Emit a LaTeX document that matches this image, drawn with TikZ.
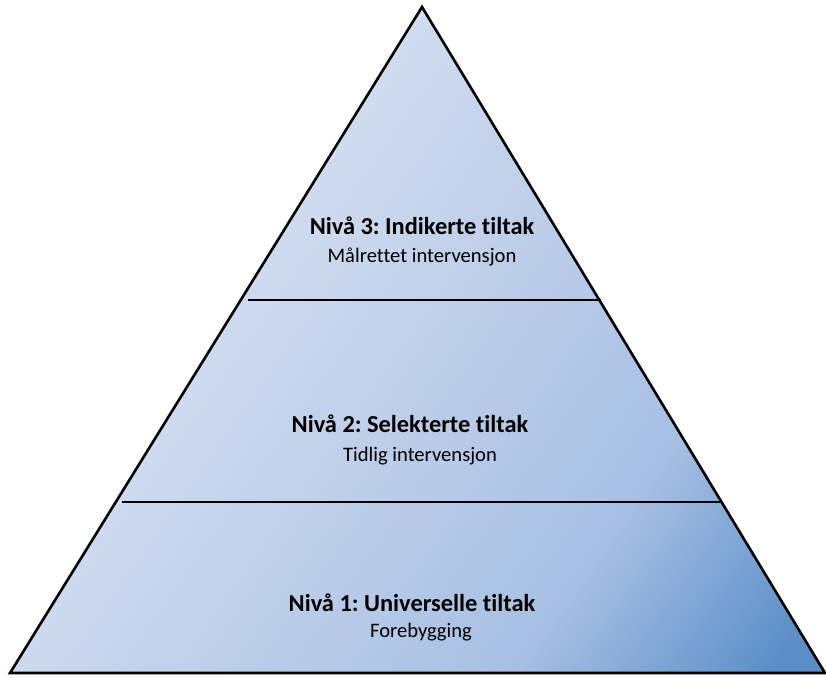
\documentclass[tikz,border=0pt]{standalone}
\usepackage{fontspec}
\setmainfont[Ligatures={NoCommon}]{Carlito}
\frenchspacing
\definecolor{pyrA}{HTML}{E0E8F5}
\definecolor{pyrB}{HTML}{BCCDE9}
\definecolor{pyrC}{HTML}{A6BFE3}
\definecolor{pyrD}{HTML}{5A8EC8}
\pgfdeclarehorizontalshading{pyrshade}{100bp}{color(0bp)=(pyrA); color(25bp)=(pyrA); color(53bp)=(pyrB); color(68bp)=(pyrC); color(82bp)=(pyrD); color(100bp)=(pyrD)}
\tikzset{
  edge/.style={line width=2.6pt, line join=miter},
  title/.style={font=\bfseries\fontsize{24.4}{28}\selectfont, inner sep=0pt},
  sub/.style={font=\fontsize{20.6}{24}\selectfont, inner sep=0pt}
}
\begin{document}
\begin{tikzpicture}[x=1pt,y=-1pt]
\useasboundingbox (0,0) rectangle (826,677);
\coordinate (apex) at (422,7);
\coordinate (bl) at (10,673);
\coordinate (br) at (825,673);
\coordinate (l1a) at (248,300);
\coordinate (l1b) at (601,300);
\coordinate (l2a) at (122,502);
\coordinate (l2b) at (722,502);
\shade[shading=pyrshade, shading angle=-35] (apex) -- (br) -- (bl) -- cycle;
\draw[edge] (apex) -- (br) -- (bl) -- cycle;
\draw[edge] (l1a) -- (l1b);
\draw[edge] (l2a) -- (l2b);
\node[title] (t3) at (422,226) {Nivå 3: Indikerte tiltak};
\node[sub] (s3) at (422,257) {Målrettet intervensjon};
\node[title] (t2) at (410,424) {Nivå 2: Selekterte tiltak};
\node[sub] (s2) at (420,456) {Tidlig intervensjon};
\node[title] (t1) at (412,603) {Nivå 1: Universelle tiltak};
\node[sub] (s1) at (421,632) {Forebygging};
\end{tikzpicture}
\end{document}
